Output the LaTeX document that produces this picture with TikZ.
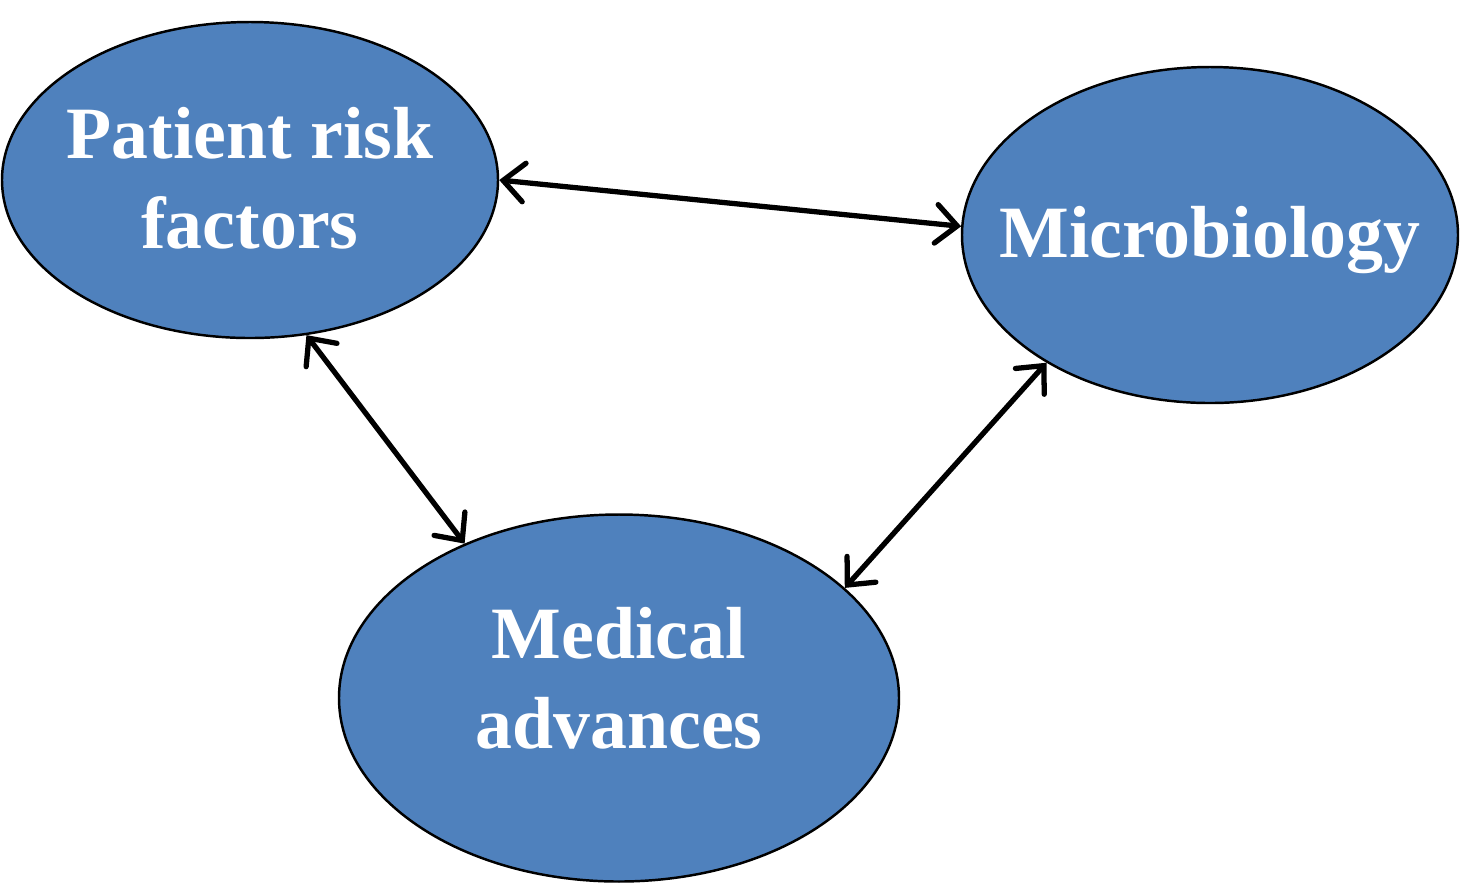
\documentclass[tikz,border=0pt]{standalone}
\usepackage{fontspec}
\setmainfont{Liberation Serif}
\usetikzlibrary{arrows.meta}
\usetikzlibrary{shapes.geometric}
\definecolor{boxblue}{HTML}{4F81BD}
\tikzset{topic/.style = {ellipse, draw=black, line width=0.7pt, fill=boxblue, inner sep=0}}
\tikzset{topictext/.style = {text=white, align=center, inner sep=0,
                             font=\fontsize{21}{25.6}\selectfont\bfseries}}
\tikzset{link/.style = {line width=1.5pt,
                        {Straight Barb[length=6pt,width=11pt,line cap=round]}-{Straight Barb[length=6pt,width=11pt,line cap=round]}}}

\begin{document}
\begin{tikzpicture}
    \useasboundingbox (0, 0) rectangle (14.6, -8.85);
    \node [topic, minimum width=4.96cm, minimum height=3.16cm,
           label={[topictext, yshift=0.02cm]center:Patient risk\\factors}] (patient) at (2.5, -1.8) {};
    \node [topic, minimum width=4.96cm, minimum height=3.36cm,
           label={[topictext, yshift=-0.05cm]center:Microbiology}] (micro) at (12.1, -2.35) {};
    \node [topic, minimum width=5.6cm, minimum height=3.67cm,
           label={[topictext, yshift=0.2cm]center:Medical\\advances}] (medical) at (6.19, -6.98) {};

    \draw [link] (patient.east) -- (micro.178);
    \draw [link] (patient.-70) -- (medical.135);
    \draw [link] (micro.-142) -- (medical.26);
  \end{tikzpicture}
\end{document}
